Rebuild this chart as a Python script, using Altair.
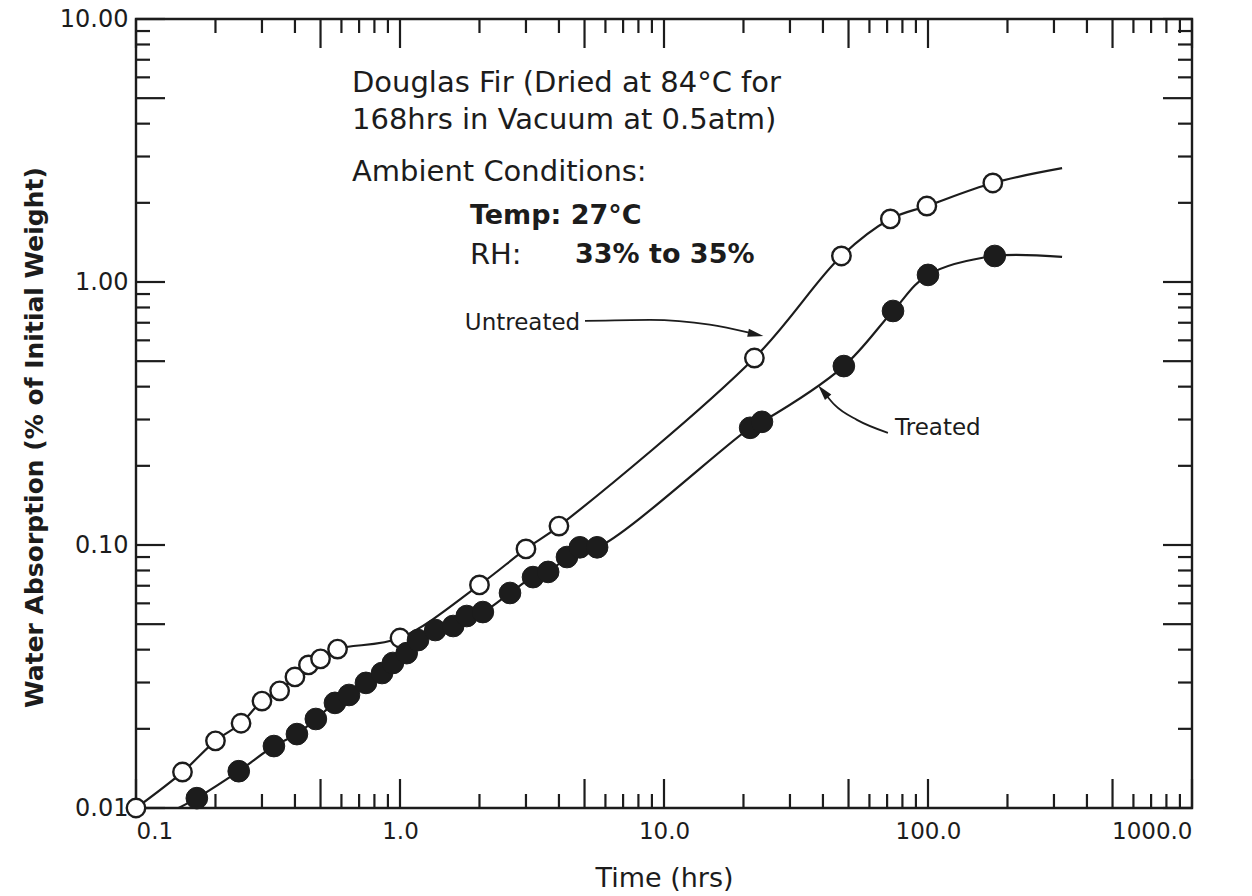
import altair as alt
import pandas as pd

INK = "#1c1c1c"
FONT = "DejaVu Sans"

# ---- data ----
# Untreated (open circles)
untreated_t = [0.1, 0.15, 0.2, 0.25, 0.3, 0.35, 0.4, 0.45, 0.5, 0.58, 1.0, 2.0, 3.0, 4.0,
               22.0, 47.0, 72.0, 99.0, 176.0]
untreated_v = [0.0100, 0.0137, 0.0180, 0.0210, 0.0255, 0.0279, 0.0315, 0.0350, 0.0369, 0.0402,
               0.0443, 0.0705, 0.0966, 0.118, 0.514, 1.256, 1.737, 1.945, 2.38]
# drawn curve continues past the last marker
untreated_curve_end_t = [322.0]
untreated_curve_end_v = [2.71]

# Treated (filled circles)
treated_t = [0.17, 0.245, 0.333, 0.407, 0.48, 0.567, 0.641, 0.743, 0.855, 0.94, 1.06, 1.17,
             1.36, 1.59, 1.79, 2.06, 2.61, 3.19, 3.64, 4.29, 4.8, 5.58, 21.2, 23.5, 48.0,
             73.7, 100.0, 179.0]
treated_v = [0.0109, 0.0138, 0.0172, 0.0191, 0.0218, 0.0251, 0.0269, 0.0299, 0.0326, 0.0356,
             0.0388, 0.0435, 0.0475, 0.0492, 0.0537, 0.0556, 0.0657, 0.0755, 0.079, 0.090,
             0.098, 0.098, 0.279, 0.294, 0.479, 0.776, 1.064, 1.256]
treated_curve_start_t = [0.145]
treated_curve_start_v = [0.0100]
treated_curve_end_t = [322.0]
treated_curve_end_v = [1.245]

# axis ticks
x_label_values = [0.1, 1, 10, 100, 1000]
y_label_values = [0.01, 0.1, 1, 10]
x_major_ticks = [0.1, 0.5, 1, 5, 10, 50, 100, 500, 1000]
x_minor_ticks = [0.2, 0.3, 0.4, 0.6, 0.7, 0.8, 0.9, 2, 3, 4, 6, 7, 8, 9,
                 20, 30, 40, 60, 70, 80, 90, 200, 300, 400, 600, 700, 800, 900]
y_major_ticks = [0.01, 0.05, 0.1, 0.5, 1, 5, 10]
y_minor_ticks = [0.02, 0.03, 0.04, 0.06, 0.07, 0.08, 0.09, 0.2, 0.3, 0.4, 0.6, 0.7, 0.8, 0.9,
                 2, 3, 4, 6, 7, 8, 9]

# annotation text (anchored in data units)
note_text = ["Douglas Fir (Dried at 84°C for", "168hrs in Vacuum at 0.5atm)",
             "Ambient Conditions:", "RH:"]
note_t = [0.658, 0.658, 0.658, 1.84]
note_v = [5.71, 4.13, 2.62, 1.27]
bold_text = ["Temp: 27°C", "33% to 35%"]
bold_t = [1.84, 4.6]
bold_v = [1.78, 1.27]

label_text = ["Untreated", "Treated"]
label_t = [1.76, 75.0]
label_v = [0.698, 0.279]

# arrow paths
arrow_id = ["u", "u", "u", "u", "t", "t", "t", "t"]
arrow_t = [5.02, 8.85, 14.9, 21.2, 70.5, 53.8, 44.4, 41.1]
arrow_v = [0.711, 0.718, 0.688, 0.64, 0.267, 0.299, 0.340, 0.372]
head_t = [21.8, 40.6]
head_v = [0.635, 0.378]
head_angle = [102, 320]

W, H = 1056, 789
MAJ, MIN = 29, 14

xs = alt.Scale(type="log", domain=[0.1, 1000], nice=False)
ys = alt.Scale(type="log", domain=[0.01, 10], nice=False)

un_df = pd.DataFrame({"t": untreated_t, "v": untreated_v})
un_line_df = pd.DataFrame({"t": untreated_t + untreated_curve_end_t,
                           "v": untreated_v + untreated_curve_end_v})
tr_df = pd.DataFrame({"t": treated_t, "v": treated_v})
tr_line_df = pd.DataFrame({"t": treated_curve_start_t + treated_t + treated_curve_end_t,
                           "v": treated_curve_start_v + treated_v + treated_curve_end_v})

x_axis = alt.Axis(values=x_label_values, format=".1f", ticks=False, domain=False, grid=False,
                  labelFontSize=23, labelFont=FONT, labelColor=INK, labelPadding=12,
                  title="Time (hrs)", titleFontSize=27, titleFont=FONT, titleColor=INK,
                  titleFontWeight="normal", titlePadding=22, labelOverlap=False)
y_axis = alt.Axis(values=y_label_values, format=".2f", ticks=False, domain=False, grid=False,
                  labelFontSize=24, labelFont=FONT, labelColor=INK, labelPadding=8,
                  title="Water Absorption (% of Initial Weight)", titleFontSize=25,
                  titleFont=FONT, titleColor=INK, titleFontWeight="bold", titlePadding=12,
                  titleY=418, labelOverlap=False)

X = lambda: alt.X("t:Q", scale=xs, axis=x_axis)
Y = lambda: alt.Y("v:Q", scale=ys, axis=y_axis)

un_line = alt.Chart(un_line_df).mark_line(color=INK, strokeWidth=2.2, interpolate="catmull-rom").encode(
    x=X(), y=Y())
tr_line = alt.Chart(tr_line_df).mark_line(color=INK, strokeWidth=2.2, interpolate="catmull-rom").encode(
    x=X(), y=Y())
un_pts = alt.Chart(un_df).mark_point(shape="circle", filled=True, fill="white", stroke=INK,
                                     strokeWidth=2.4, size=340, opacity=1).encode(x=X(), y=Y())
tr_pts = alt.Chart(tr_df).mark_point(shape="circle", filled=True, fill=INK, stroke=INK,
                                     strokeWidth=1, size=470, opacity=1).encode(x=X(), y=Y())


def xticks(vals, length, top):
    d = pd.DataFrame({"t": vals})
    if top:
        enc = dict(y=alt.value(0), y2=alt.value(length))
    else:
        enc = dict(y=alt.value(H), y2=alt.value(H - length))
    return alt.Chart(d).mark_rule(color=INK, strokeWidth=2.2).encode(x=X(), **enc)


def yticks(vals, length, right):
    d = pd.DataFrame({"v": vals})
    if right:
        enc = dict(x=alt.value(W), x2=alt.value(W - length))
    else:
        enc = dict(x=alt.value(0), x2=alt.value(length))
    return alt.Chart(d).mark_rule(color=INK, strokeWidth=2.2).encode(y=Y(), **enc)


ticks = [xticks(x_major_ticks, MAJ, False), xticks(x_minor_ticks, MIN, False),
         xticks(x_major_ticks, MAJ, True), xticks(x_minor_ticks, MIN, True),
         yticks(y_major_ticks, MAJ, False), yticks(y_minor_ticks, MIN, False),
         yticks(y_major_ticks, MAJ, True), yticks(y_minor_ticks, MIN, True)]

notes = alt.Chart(pd.DataFrame({"t": note_t, "v": note_v, "text": note_text})).mark_text(
    align="left", baseline="middle", font=FONT, color=INK, fontSize=29).encode(
    x=X(), y=Y(), text="text:N")
bold_notes = alt.Chart(pd.DataFrame({"t": bold_t, "v": bold_v, "text": bold_text})).mark_text(
    align="left", baseline="middle", font=FONT, color=INK, fontSize=27, fontWeight="bold").encode(
    x=X(), y=Y(), text="text:N")

labels = alt.Chart(pd.DataFrame({"t": label_t, "v": label_v, "text": label_text})).mark_text(
    align="left", baseline="middle", font=FONT, color=INK, fontSize=23).encode(
    x=X(), y=Y(), text="text:N")

arrows_df = pd.DataFrame({"t": arrow_t, "v": arrow_v, "id": arrow_id,
                          "o": list(range(len(arrow_t)))})
arrows = alt.Chart(arrows_df).mark_line(color=INK, strokeWidth=1.8, interpolate="monotone").encode(
    x=X(), y=Y(), detail="id:N", order="o:Q")
heads_df = pd.DataFrame({"t": head_t, "v": head_v, "a": head_angle})
heads = alt.Chart(heads_df).mark_point(shape="M0,-1L0.45,0.7L-0.45,0.7Z", filled=True, fill=INK,
                                       stroke=INK, size=160, opacity=1).encode(
    x=X(), y=Y(), angle=alt.Angle("a:Q", scale=None))

chart = alt.layer(un_line, tr_line, *ticks, arrows, heads, un_pts, tr_pts,
                  notes, bold_notes, labels).properties(
    width=W, height=H,
    autosize=alt.AutoSizeParams(type="none"),
    padding={"left": 136, "top": 19, "right": 1252 - 136 - W, "bottom": 896 - 19 - H},
    background="white",
).configure_view(stroke=INK, strokeWidth=2.4)

chart.save("out.html", embed_options={"renderer": "svg", "actions": False})
